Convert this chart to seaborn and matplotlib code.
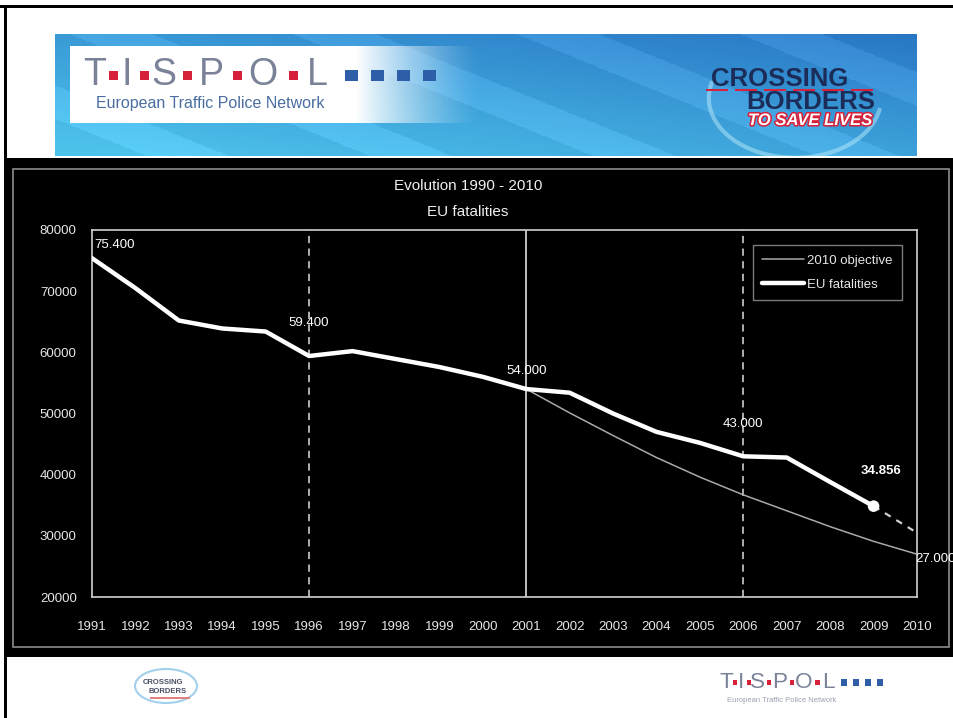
import numpy as np
import pandas as pd
import seaborn as sns
import matplotlib
matplotlib.use("Agg")
import matplotlib.pyplot as plt
from matplotlib.patches import Rectangle, Ellipse, Arc
from matplotlib.lines import Line2D
import matplotlib.patheffects as pe

# ---------------- data ----------------
years = list(range(1991, 2010))
eu_fatalities = [75400, 70500, 65200, 63900, 63400, 59400, 60200, 58900, 57600,
                 56000, 54000, 53400, 50000, 47000, 45200, 43000, 42800, 38800, 34856]
objective_years = list(range(2001, 2011))
objective_2010 = [54000, 50100, 46400, 42800, 39600, 36700, 34100, 31500, 29100, 27000]
projection_years = [2009, 2010]
projection_values = [34856, 30500]
milestone_years = [1996, 2001, 2006]
annot_labels = ["75.400", "59.400", "54.000", "43.000", "34.856", "27.000"]
yticks = [20000, 30000, 40000, 50000, 60000, 70000, 80000]
xticks = list(range(1991, 2011))
title_lines = ["Evolution 1990 - 2010", "EU fatalities"]
legend_labels = ["2010 objective", "EU fatalities"]

df_eu = pd.DataFrame({"year": years, "value": eu_fatalities})
df_obj = pd.DataFrame({"year": objective_years, "value": objective_2010})

W, H = 954, 718
sns.set_theme(style="dark")
SANS = ["Liberation Sans", "DejaVu Sans"]
plt.rcParams["font.family"] = SANS

fig = plt.figure(figsize=(W / 100, H / 100), dpi=100)
fig.patch.set_facecolor("white")


def fx(x):
    return x / W


def fy(y):
    return 1 - y / H


def rect_px(x0, y0, x1, y1, **kw):
    fig.patches.append(Rectangle((fx(x0), fy(y1)), fx(x1) - fx(x0), fy(y0) - fy(y1),
                                 transform=fig.transFigure, **kw))


def text_px(x, y, s, **kw):
    fig.text(fx(x), fy(y), s, **kw)


# ---------------- slide frame ----------------
rect_px(0, 5, W, 8, facecolor="black", edgecolor="none", zorder=1)
rect_px(4, 5, 7, H, facecolor="black", edgecolor="none", zorder=1)

# ---------------- banner ----------------
bx0, by0, bx1, by1 = 55, 34, 917, 156
bax = fig.add_axes([fx(bx0), fy(by1), fx(bx1) - fx(bx0), fy(by0) - fy(by1)])
bax.set_zorder(2)
gx, gy = np.meshgrid(np.linspace(0, 1, 430), np.linspace(0, 1, 122))
t = np.clip(0.45 * gx + 0.55 * (1 - gy) - 0.05, 0, 1)  # gy=0 top
c_light = np.array([0.30, 0.76, 0.92])
c_dark = np.array([0.15, 0.45, 0.76])
img = c_light[None, None, :] * (1 - t[..., None]) + c_dark[None, None, :] * t[..., None]
stripes = 0.05 * (np.sin((gx * 430 * 0.9 - gy * 122 * 1.1) / 16.0) > 0.4)
img = np.clip(img + stripes[..., None], 0, 1)
bax.imshow(img, aspect="auto", extent=[0, 1, 1, 0])
# white panel fading to the right
panel = np.ones((20, 400, 4))
px_ = np.linspace(0, 1, 400)
panel[..., 3] = np.clip((1 - px_) / 0.3, 0, 1)[None, :] ** 1.3
bax.imshow(panel, aspect="auto", extent=[(70 - bx0) / (bx1 - bx0), (480 - bx0) / (bx1 - bx0),
                                         (123 - by0) / (by1 - by0), (46 - by0) / (by1 - by0)])
# swirl of crossing borders
bax.add_patch(Arc(((795 - bx0) / (bx1 - bx0), (98 - by0) / (by1 - by0)), 0.2, 0.98,
                  theta1=40, theta2=235, edgecolor="#c6f3ff", lw=3, alpha=0.45))
bax.set_xlim(0, 1)
bax.set_ylim(1, 0)
bax.axis("off")


def tispol(x0, ybase, sx, sf, zorder=5, sub=True, subsize=11.5, subcolor="#4a6ea0", subgap=23):
    letters = ["T", "I", "S", "P", "O", "L"]
    centers = [9, 41, 78, 125, 177, 231]
    sq = [23, 54, 97, 147, 203]
    fs = 27 * sf
    for L, xx in zip(letters, centers):
        text_px(x0 + xx * sx, ybase, L, fontsize=fs, color="#7a8298", family=SANS,
                va="baseline", ha="center", zorder=zorder)
    for sxx in sq:
        rect_px(x0 + sxx * sx, ybase - 14 * sf, x0 + (sxx + 9) * sx, ybase - 5 * sf,
                facecolor="#d7203a", edgecolor="none", zorder=zorder)
    for i in range(4):
        sxx = 259 + i * 26
        rect_px(x0 + sxx * sx, ybase - 15 * sf, x0 + (sxx + 13) * sx, ybase - 4 * sf,
                facecolor="#2f5ea8", edgecolor="none", zorder=zorder)
    if sub:
        text_px(x0 + 10 * sx, ybase + subgap * sf, "European Traffic Police Network",
                fontsize=subsize, color=subcolor, family=SANS, va="baseline", zorder=zorder)


tispol(86, 85, 1.0, 1.0)

# crossing borders (header)
text_px(780, 86, "CROSSING", fontsize=18.5, fontweight="bold", color="#1b2c58", family=SANS,
        ha="center", va="baseline", zorder=6)
for i in range(6):
    rect_px(706 + i * 29, 89, 728 + i * 29, 91, facecolor="#d7203a", edgecolor="none", zorder=6)
text_px(811, 109, "BORDERS", fontsize=18.5, fontweight="bold", color="#1b2c58", family=SANS,
        ha="center", va="baseline", zorder=6)
text_px(810, 125, "TO SAVE LIVES", fontsize=12, fontweight="bold", style="italic", color="white",
        family=SANS, ha="center", va="baseline", zorder=6,
        path_effects=[pe.withStroke(linewidth=2.2, foreground="#d7203a")])

# ---------------- chart background ----------------
rect_px(7, 158, W, 657, facecolor="black", edgecolor="none", zorder=1)
rect_px(13, 169, 949, 647, facecolor="none", edgecolor="#8c8c8c", lw=1.2, zorder=2)

ax = fig.add_axes([fx(92), fy(597), fx(917) - fx(92), fy(230) - fy(597)])
ax.set_zorder(10)
ax.set_facecolor("black")

for yr, ls in zip(milestone_years, ["--", "-", "--"]):
    if ls == "--":
        ax.axvline(yr, color="#bdbdbd", lw=1.3, ls=(0, (4, 3)), zorder=1)
    else:
        ax.axvline(yr, color="#cfcfcf", lw=1.3, zorder=1)

sns.lineplot(data=df_obj, x="year", y="value", ax=ax, color="#a9a9a9", lw=1.1, zorder=3,
             legend=False)
sns.lineplot(data=df_eu, x="year", y="value", ax=ax, color="white", lw=3.2, zorder=4,
             legend=False)
ax.plot(projection_years, projection_values, color="#cfcfcf", lw=1.6, ls=(0, (3, 3)), zorder=3)
sns.scatterplot(x=[years[-1]], y=[eu_fatalities[-1]], ax=ax, color="white", s=70,
                edgecolor="none", zorder=5)

ax.set_xlim(1991, 2010)
ax.set_ylim(20000, 80000)
ax.set_xticks(xticks)
ax.set_yticks(yticks)
ax.set_xticklabels([str(v) for v in xticks])
ax.set_yticklabels([str(v) for v in yticks])
ax.tick_params(axis="both", colors="#e6e6e6", labelsize=9.5, length=5, width=1,
               direction="out", labelcolor="#e6e6e6")
ax.tick_params(axis="x", length=0, pad=17)
ax.tick_params(axis="y", pad=6)
ax.set_xlabel("")
ax.set_ylabel("")
ax.grid(False)
for s in ax.spines.values():
    s.set_visible(True)
    s.set_color("#d0d0d0")
    s.set_linewidth(1.2)

# annotations
text_y = [76500, 63800, 56000, 47300, 39700, 26200]
text_x = [1991.05, 1996.0, 2001.0, 2006.0, 2009.17, 2009.96]
has = ["left", "center", "center", "center", "center", "left"]
vas = ["bottom", "bottom", "bottom", "bottom", "bottom", "center"]
for i, lab in enumerate(annot_labels):
    ax.text(text_x[i], text_y[i], lab, color="white", fontsize=9.5,
            fontweight="bold" if i == 4 else "normal",
            ha=has[i], va=vas[i], clip_on=False, zorder=6)

# legend
handles = [Line2D([], [], color="#a9a9a9", lw=1.1), Line2D([], [], color="white", lw=3.2)]
leg = ax.legend(handles, legend_labels, loc="upper left", bbox_to_anchor=(0.801, 0.958),
                frameon=True, fancybox=False, facecolor="black", edgecolor="#9a9a9a",
                fontsize=9.5, labelcolor="#e6e6e6", handlelength=3.2, handletextpad=0.2,
                borderpad=0.7, labelspacing=0.9, borderaxespad=0)
leg.get_frame().set_linewidth(1.0)

# title
text_px(468, 190, title_lines[0], fontsize=11, color="#f0f0f0", ha="center", va="baseline")
text_px(468, 216, title_lines[1], fontsize=11, color="#f0f0f0", ha="center", va="baseline")

# ---------------- footer ----------------
fig.patches.append(Ellipse((fx(166), fy(686)), fx(62), 34 / H, transform=fig.transFigure,
                           fill=False, edgecolor="#7cbce6", lw=1.5, alpha=0.7, zorder=3))
text_px(163, 684, "CROSSING", fontsize=5.5, fontweight="bold", color="#4a4f65", family=SANS,
        ha="center", va="baseline", zorder=4)
text_px(168, 693, "BORDERS", fontsize=5.5, fontweight="bold", color="#4a4f65", family=SANS,
        ha="center", va="baseline", zorder=4)
rect_px(150, 697, 190, 699, facecolor="#e58080", edgecolor="none", zorder=4)
tispol(722, 688, 0.46, 0.6, subsize=5.5, subcolor="#9aa0b0", subgap=23)

fig.savefig("out.png", dpi=100, facecolor=fig.get_facecolor())
